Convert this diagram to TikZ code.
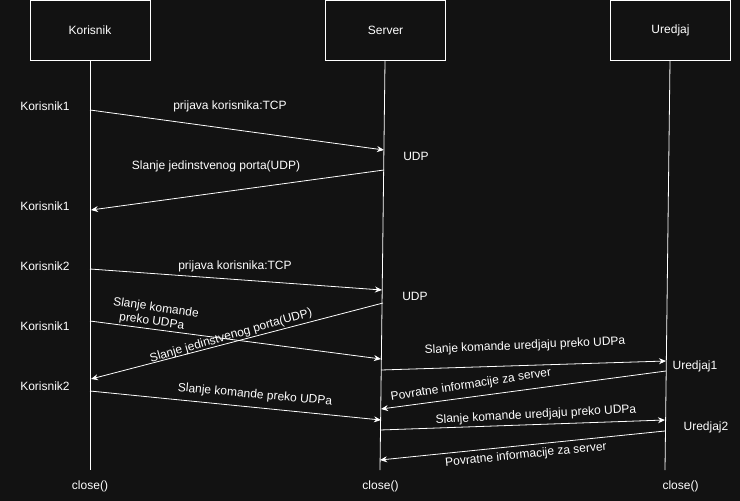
\documentclass[tikz,border=0pt]{standalone}
\usepackage{fontspec}
\setmainfont{Liberation Sans}
\usetikzlibrary{arrows.meta}
\definecolor{bg}{RGB}{18,18,18}
\begin{document}
\begin{tikzpicture}[x=1pt,y=-1pt,
  every node/.style={text=white, font=\fontsize{12}{14}\selectfont, inner sep=0pt},
  actor/.style={draw=white, line width=1pt, minimum width=120pt, minimum height=60pt, fill=bg},
  life/.style={draw=white, line width=0.8pt},
  msg/.style={draw=white, line width=0.8pt, -{Stealth[length=7pt,width=6pt]}}]
\fill[bg] (0,0) rectangle (740,501);
\useasboundingbox (0,0) rectangle (740,501);
% actors
\node[actor] (kor) at (90,30.7) {Korisnik};
\node[actor] (srv) at (385.5,30.7) {Server};
\node[actor] (ure) at (670.5,30.7) {Uredjaj};
% lifeline ends
\coordinate (korB) at (90,470);
\coordinate (srvT) at (385,61.2);
\coordinate (srvB) at (380,470);
\coordinate (ureT) at (670,61.2);
\coordinate (ureB) at (665,470);
\draw[life] (kor.south) -- (korB);
\draw[life] (srvT) -- (srvB);
\draw[life] (ureT) -- (ureB);
% message end points
\coordinate (k1) at (90,110);   \coordinate (s1) at (384,150);
\coordinate (s2) at (384,170);  \coordinate (k2) at (91,210);
\coordinate (k3) at (90,269);   \coordinate (s3) at (382,290);
\coordinate (s4) at (383,303);  \coordinate (k4) at (91,379);
\coordinate (k5) at (90,321);   \coordinate (s5) at (381,359);
\coordinate (k6) at (90,391);   \coordinate (s6) at (381,420);
\coordinate (s7) at (381,370);  \coordinate (u7) at (666,361);
\coordinate (u8) at (666,371);  \coordinate (s8) at (381,409);
\coordinate (s9) at (380,430);  \coordinate (u9) at (665,420);
\coordinate (u10) at (665,431); \coordinate (s10) at (380,460);
\draw[msg] (k1) -- (s1);
\draw[msg] (s2) -- (k2);
\draw[msg] (k3) -- (s3);
\draw[msg] (s4) -- (k4);
\draw[msg] (k5) -- (s5);
\draw[msg] (k6) -- (s6);
\draw[msg] (s7) -- (u7);
\draw[msg] (u8) -- (s8);
\draw[msg] (s9) -- (u9);
\draw[msg] (u10) -- (s10);
% side labels
\node (lk1) at (45,106) {Korisnik1};
\node (lk2) at (45,206) {Korisnik1};
\node (lk3) at (45,266) {Korisnik2};
\node (lk4) at (45,326) {Korisnik1};
\node (lk5) at (45,386) {Korisnik2};
\node (udp1) at (416,156) {UDP};
\node (udp2) at (415,296) {UDP};
\node (lu1) at (695,366) {Uredjaj1};
\node (lu2) at (706,427) {Uredjaj2};
\node (c1) at (90,486) {close()};
\node (c2) at (380.5,486) {close()};
\node (c3) at (680.5,486) {close()};
% message labels
\node (t1) at (230,106) {prijava korisnika:TCP};
\node (t2) at (216,166) {Slanje jedinstvenog porta(UDP)};
\node (t3) at (235,266) {prijava korisnika:TCP};
\node[rotate=16] (t4) at (231,336) {Slanje jedinstvenog porta(UDP)};
\node[rotate=-8, align=left] (t5) at (155,315) {Slanje komande\\\hspace*{8pt}preko UDPa};
\node[rotate=-5.2] (t6) at (255,395) {Slanje komande preko UDPa};
\node[rotate=2.6] (t7) at (525,346) {Slanje komande uredjaju preko UDPa};
\node[rotate=8.8] (t8) at (471,385) {Povratne informacije za server};
\node[rotate=3.1] (t9) at (536,415) {Slanje komande uredjaju preko UDPa};
\node[rotate=5.7] (t10) at (526,455) {Povratne informacije za server};
\end{tikzpicture}
\end{document}
